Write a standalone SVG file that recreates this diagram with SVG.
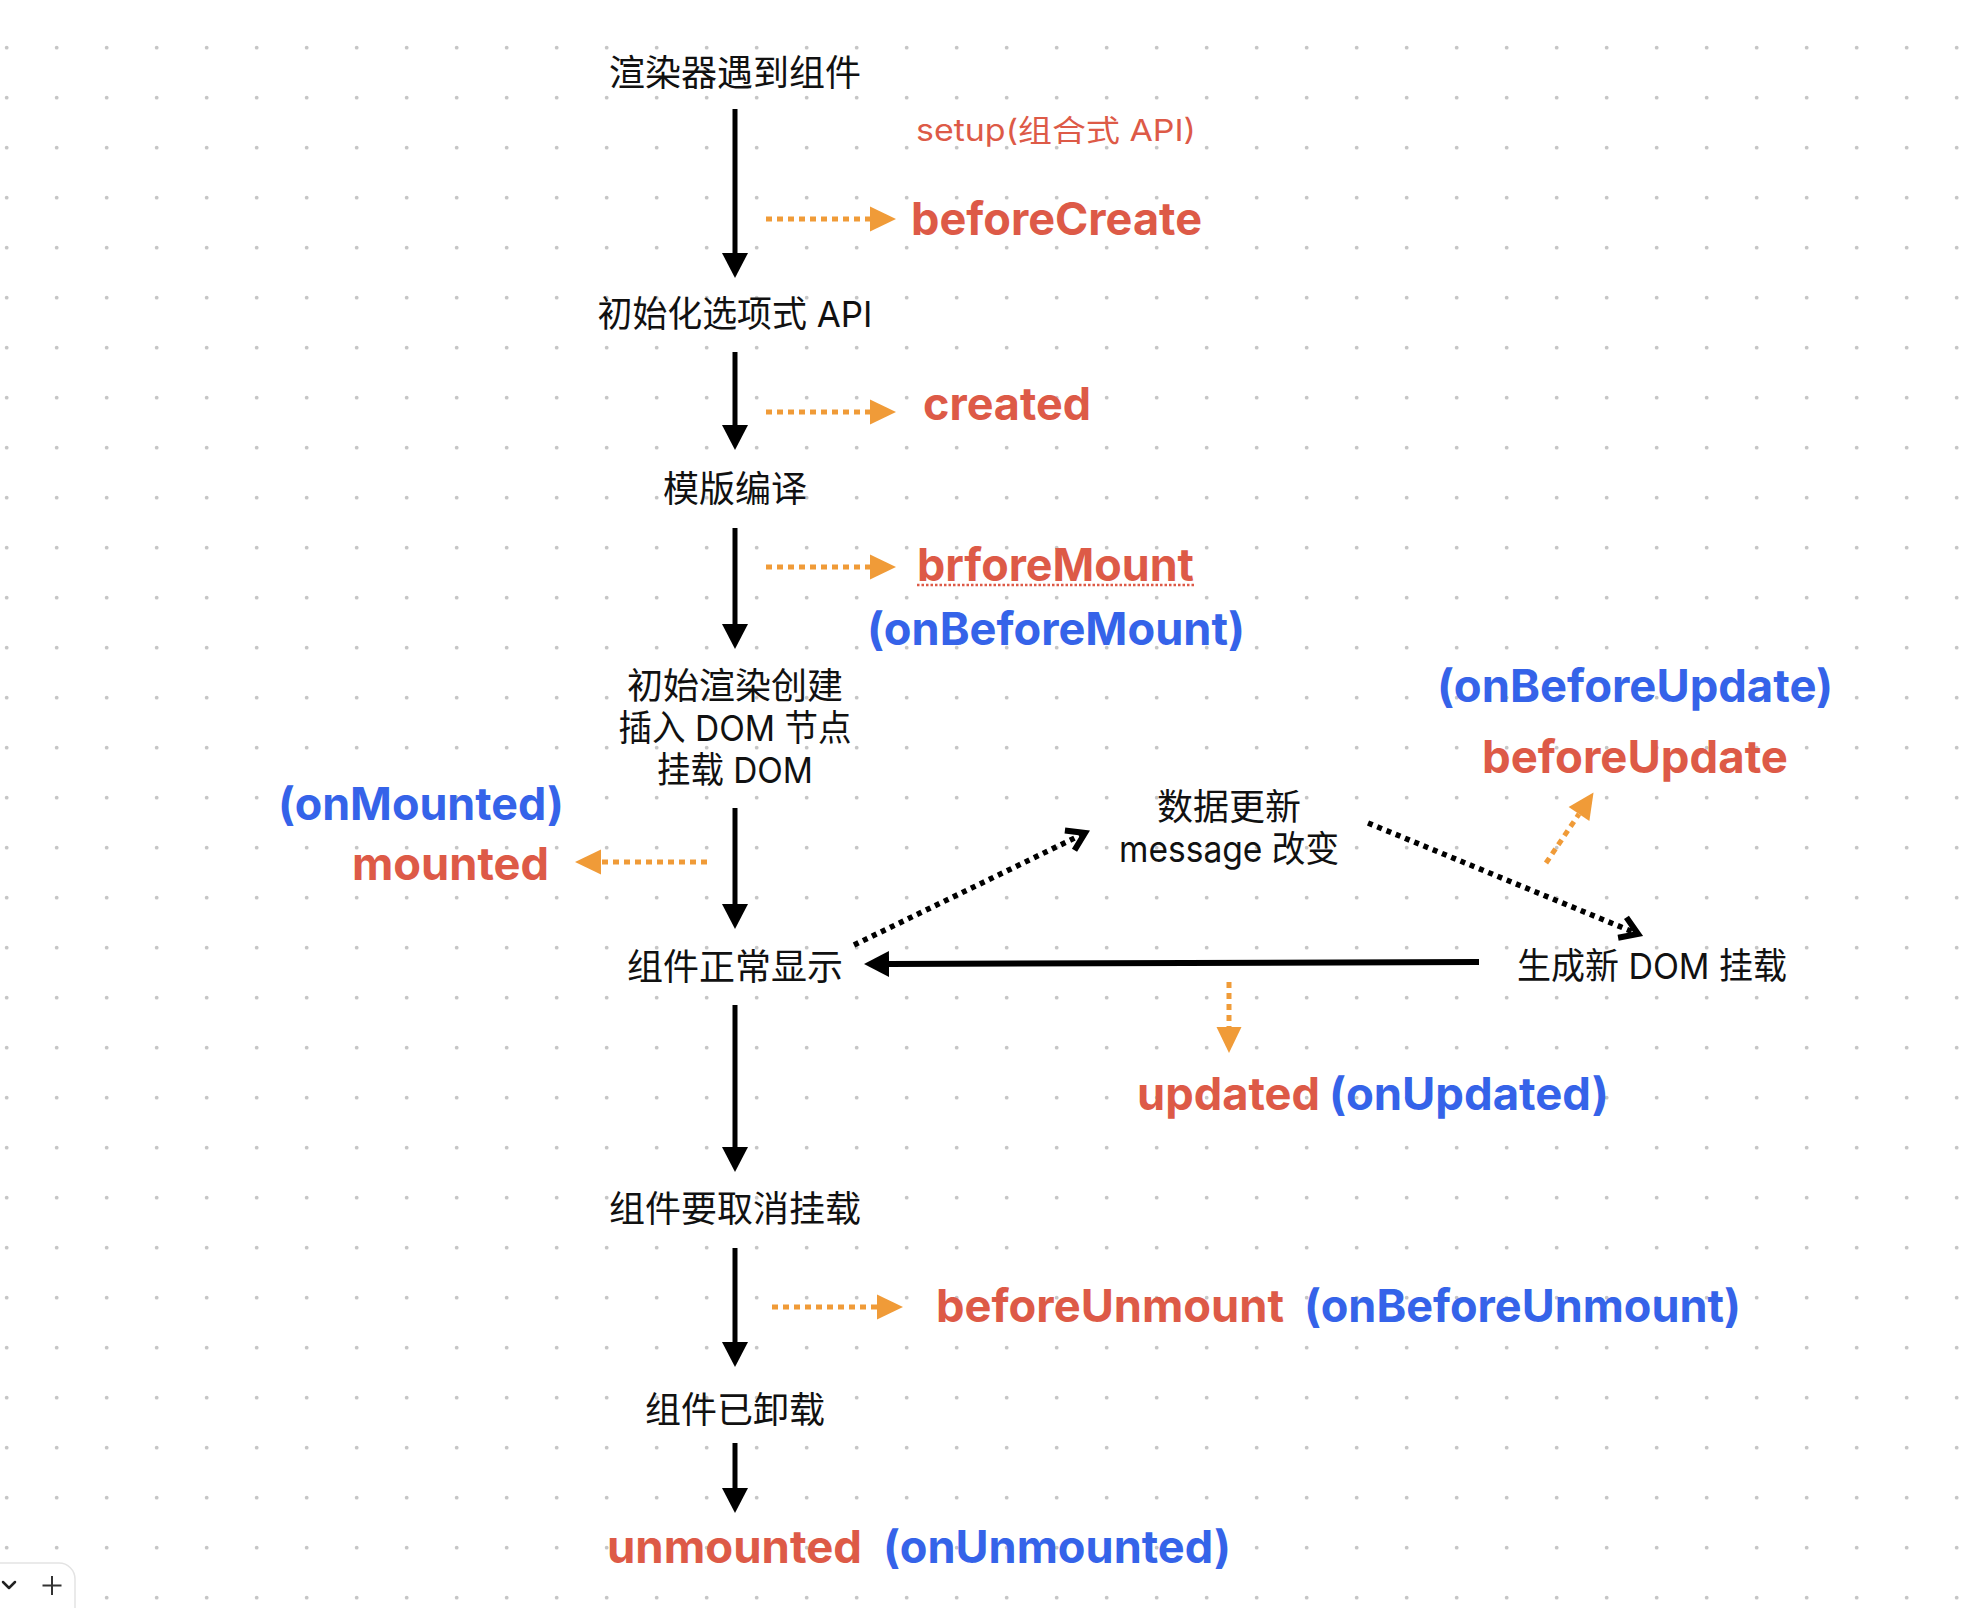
<svg xmlns="http://www.w3.org/2000/svg" width="1970" height="1608" viewBox="0 0 1970 1608">
<defs>
<pattern id="dots" x="0" y="0" width="50" height="50" patternUnits="userSpaceOnUse">
<circle cx="6.7" cy="47.7" r="1.9" fill="#c6c6c6"/>
</pattern>
<marker id="headBlack" markerUnits="userSpaceOnUse" markerWidth="27" markerHeight="28" refX="0" refY="13" orient="auto" overflow="visible">
<path d="M0,0 L25,13 L0,26 Z" fill="#000"/>
</marker>
<marker id="headOrange" markerUnits="userSpaceOnUse" markerWidth="27" markerHeight="28" refX="0" refY="12.5" orient="auto" overflow="visible">
<path d="M0,0 L26,12.5 L0,25 Z" fill="#f09b38"/>
</marker>
<marker id="chevron" markerUnits="userSpaceOnUse" markerWidth="30" markerHeight="30" refX="20" refY="13" orient="auto" overflow="visible">
<path d="M3,2 L20,13 L3,24" fill="none" stroke="#000" stroke-width="6" stroke-linejoin="miter"/>
</marker>
</defs>
<style>
.node{font-family:Inter,"Noto Sans CJK SC",sans-serif;font-size:36px;fill:#111;text-anchor:middle}
.hook{font-family:Inter,"Noto Sans CJK SC",sans-serif;font-size:45px;font-weight:700}
.red{fill:#dd5a47}
.blue{fill:#3563e9}
.solid{stroke:#000;stroke-width:5;fill:none}
.odash{stroke:#f09b38;stroke-width:5;stroke-dasharray:6 5;fill:none}
.kdot{stroke:#000;stroke-width:5.5;stroke-dasharray:5 5;fill:none}
</style>
<rect width="1970" height="1608" fill="#ffffff"/>
<rect width="1970" height="1608" fill="url(#dots)"/>

<g id="connectors">
<line class="solid" x1="735" y1="109" x2="735" y2="253" marker-end="url(#headBlack)"/>
<line class="solid" x1="735" y1="352" x2="735" y2="425" marker-end="url(#headBlack)"/>
<line class="solid" x1="735" y1="528" x2="735" y2="624" marker-end="url(#headBlack)"/>
<line class="solid" x1="735" y1="808" x2="735" y2="904" marker-end="url(#headBlack)"/>
<line class="solid" x1="735" y1="1005" x2="735" y2="1147" marker-end="url(#headBlack)"/>
<line class="solid" x1="735" y1="1248" x2="735" y2="1342" marker-end="url(#headBlack)"/>
<line class="solid" x1="735" y1="1443" x2="735" y2="1488" marker-end="url(#headBlack)"/>
<line x1="1479" y1="962" x2="889" y2="964" stroke="#000" stroke-width="6" marker-end="url(#headBlack)"/>

<line class="odash" x1="766" y1="219" x2="870" y2="219" marker-end="url(#headOrange)"/>
<line class="odash" x1="766" y1="412" x2="870" y2="412" marker-end="url(#headOrange)"/>
<line class="odash" x1="766" y1="567" x2="870" y2="567" marker-end="url(#headOrange)"/>
<line class="odash" x1="707" y1="862" x2="601" y2="862" marker-end="url(#headOrange)"/>
<line class="odash" x1="772" y1="1307" x2="877" y2="1307" marker-end="url(#headOrange)"/>
<line class="odash" x1="1546" y1="863" x2="1579" y2="814" marker-end="url(#headOrange)"/>
<line class="odash" x1="1229" y1="982" x2="1229" y2="1027" marker-end="url(#headOrange)"/>

<line class="kdot" x1="854" y1="945" x2="1085" y2="833" marker-end="url(#chevron)"/>
<line class="kdot" x1="1368" y1="823" x2="1638" y2="934" marker-end="url(#chevron)"/>
</g>

<g id="n1"><text class="node" x="735" y="86">渲染器遇到组件</text></g>
<g id="n2"><text class="node" x="735" y="327" textLength="275" lengthAdjust="spacingAndGlyphs">初始化选项式 API</text></g>
<g id="n3"><text class="node" x="735" y="502">模版编译</text></g>
<g id="n4"><text class="node" x="735" y="699">初始渲染创建</text><text class="node" x="735" y="741" textLength="233" lengthAdjust="spacingAndGlyphs">插入 DOM 节点</text><text class="node" x="735" y="783" textLength="156" lengthAdjust="spacingAndGlyphs">挂载 DOM</text></g>
<g id="n5"><text class="node" x="735" y="980">组件正常显示</text></g>
<g id="n6"><text class="node" x="1229" y="820">数据更新</text><text class="node" x="1229" y="862" textLength="220" lengthAdjust="spacingAndGlyphs">message 改变</text></g>
<g id="n7"><text class="node" x="1652" y="979" textLength="270" lengthAdjust="spacingAndGlyphs">生成新 DOM 挂载</text></g>
<g id="n8"><text class="node" x="735" y="1222">组件要取消挂载</text></g>
<g id="n9"><text class="node" x="735" y="1423">组件已卸载</text></g>

<g id="labels">
<text class="red" x="916" y="141" font-family="Inter,'Noto Sans CJK SC',sans-serif" font-size="30" textLength="280" lengthAdjust="spacingAndGlyphs">setup(组合式 API)</text>
<text class="hook red" x="911" y="235" textLength="291" lengthAdjust="spacingAndGlyphs">beforeCreate</text>
<text class="hook red" x="923" y="420" textLength="168" lengthAdjust="spacingAndGlyphs">created</text>
<text class="hook red" x="917" y="581" textLength="277" lengthAdjust="spacingAndGlyphs">brforeMount</text>
<line x1="917" y1="585" x2="1194" y2="585" stroke="#dd5a47" stroke-width="2.5" stroke-dasharray="2.5 2"/>
<text class="hook blue" x="867" y="645" textLength="378" lengthAdjust="spacingAndGlyphs">(onBeforeMount)</text>
<text class="hook blue" x="278" y="820" textLength="286" lengthAdjust="spacingAndGlyphs">(onMounted)</text>
<text class="hook red" x="352" y="880" textLength="197" lengthAdjust="spacingAndGlyphs">mounted</text>
<text class="hook blue" x="1437" y="702" textLength="396" lengthAdjust="spacingAndGlyphs">(onBeforeUpdate)</text>
<text class="hook red" x="1482" y="773" textLength="306" lengthAdjust="spacingAndGlyphs">beforeUpdate</text>
<text class="hook red" x="1137" y="1110" textLength="183" lengthAdjust="spacingAndGlyphs">updated</text>
<text class="hook blue" x="1329" y="1110" textLength="280" lengthAdjust="spacingAndGlyphs">(onUpdated)</text>
<text class="hook red" x="936" y="1322" textLength="348" lengthAdjust="spacingAndGlyphs">beforeUnmount</text>
<text class="hook blue" x="1304" y="1322" textLength="437" lengthAdjust="spacingAndGlyphs">(onBeforeUnmount)</text>
<text class="hook red" x="607" y="1563" textLength="255" lengthAdjust="spacingAndGlyphs">unmounted</text>
<text class="hook blue" x="883" y="1563" textLength="348" lengthAdjust="spacingAndGlyphs">(onUnmounted)</text>
</g>

<g id="toolbar">
<rect x="-20" y="1563" width="95" height="70" rx="16" fill="#fff" stroke="#e3e3e3" stroke-width="1.5"/>
<path d="M3,1582 L9,1588 L15,1582" fill="none" stroke="#222" stroke-width="2.5" stroke-linecap="round" stroke-linejoin="round"/>
<path d="M52,1576 V1595 M42.5,1585.5 H61.5" fill="none" stroke="#333" stroke-width="2"/>
</g>
</svg>
